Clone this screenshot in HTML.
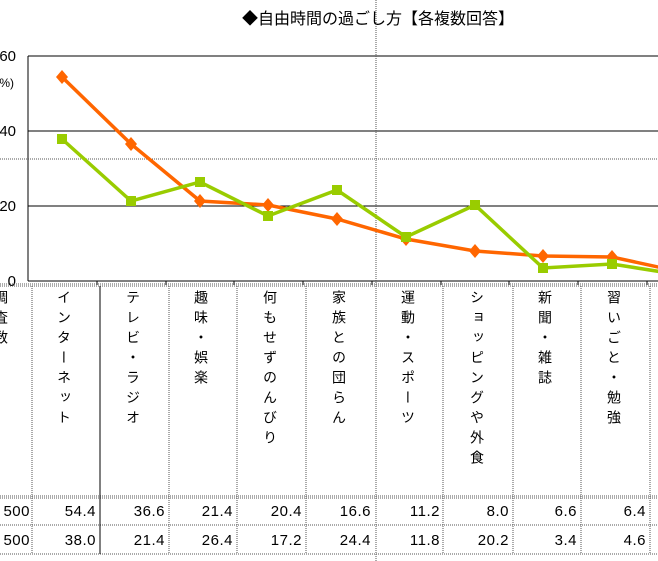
<!DOCTYPE html>
<html><head><meta charset="utf-8"><style>
body{margin:0;background:#fff;width:658px;height:561px;overflow:hidden;font-family:"Liberation Sans","Noto Sans CJK JP",sans-serif;position:relative}
.v{position:absolute;top:290px;writing-mode:vertical-rl;font-size:14px;letter-spacing:6px;color:#000;line-height:14px}
.n{position:absolute;font-size:15px;text-align:right;width:60px;letter-spacing:0.5px}
</style></head><body>
<svg width="658" height="561" style="position:absolute;left:0;top:0">
<text x="378" y="24" font-size="16" text-anchor="middle" font-family="Noto Sans CJK JP,sans-serif">◆自由時間の過ごし方【各複数回答】</text>
<line x1="28" y1="56" x2="658" y2="56" stroke="#000" stroke-width="1"/>
<line x1="28" y1="131" x2="658" y2="131" stroke="#000" stroke-width="1"/>
<line x1="28" y1="206" x2="658" y2="206" stroke="#000" stroke-width="1"/>
<line x1="28" y1="281" x2="658" y2="281" stroke="#000" stroke-width="1"/>
<line x1="28" y1="56" x2="28" y2="281" stroke="#000" stroke-width="1"/>
<g stroke="#000"><line x1="97" y1="281" x2="97" y2="285"/><line x1="166" y1="281" x2="166" y2="285"/><line x1="234" y1="281" x2="234" y2="285"/><line x1="303" y1="281" x2="303" y2="285"/><line x1="372" y1="281" x2="372" y2="285"/><line x1="441" y1="281" x2="441" y2="285"/><line x1="509" y1="281" x2="509" y2="285"/><line x1="578" y1="281" x2="578" y2="285"/><line x1="647" y1="281" x2="647" y2="285"/></g>
<line x1="0" y1="159" x2="658" y2="159" stroke="#555" stroke-dasharray="1,1"/>
<line x1="376" y1="0" x2="376" y2="561" stroke="#555" stroke-dasharray="1,1"/>
<g font-size="15" text-anchor="end"><text x="16" y="61">60</text><text x="14" y="87" font-size="12">%)</text><text x="16" y="136">40</text><text x="16" y="211">20</text><text x="16" y="286">0</text></g>
<polyline fill="none" stroke="#FF6600" stroke-width="3.5" points="62,77 131,144 200,201 268,205 337,219 406,239 475,251 543,256 612,257 681,272"/>
<g fill="#FF6600"><path d="M62,70l6,7-6,7-6-7z"/><path d="M131,137l6,7-6,7-6-7z"/><path d="M200,194l6,7-6,7-6-7z"/><path d="M268,198l6,7-6,7-6-7z"/><path d="M337,212l6,7-6,7-6-7z"/><path d="M406,232l6,7-6,7-6-7z"/><path d="M475,244l6,7-6,7-6-7z"/><path d="M543,249l6,7-6,7-6-7z"/><path d="M612,250l6,7-6,7-6-7z"/></g>
<polyline fill="none" stroke="#99CC00" stroke-width="3.5" points="62,139 131,201 200,182 268,216 337,190 406,237 475,205 543,268 612,264 681,275"/>
<g fill="#99CC00"><rect x="57" y="134" width="10" height="10"/><rect x="126" y="196" width="10" height="10"/><rect x="195" y="177" width="10" height="10"/><rect x="263" y="211" width="10" height="10"/><rect x="332" y="185" width="10" height="10"/><rect x="401" y="232" width="10" height="10"/><rect x="470" y="200" width="10" height="10"/><rect x="538" y="263" width="10" height="10"/><rect x="607" y="259" width="10" height="10"/></g>
<g stroke="#555" stroke-dasharray="1,1"><line x1="0" y1="284" x2="658" y2="284"/><line x1="0" y1="286" x2="658" y2="286"/><line x1="0" y1="496" x2="658" y2="496"/><line x1="0" y1="498" x2="658" y2="498"/><line x1="0" y1="525" x2="658" y2="525"/><line x1="0" y1="554" x2="658" y2="554"/>
<line x1="32" y1="286" x2="32" y2="554"/><line x1="169" y1="286" x2="169" y2="554"/><line x1="237" y1="286" x2="237" y2="554"/><line x1="306" y1="286" x2="306" y2="554"/><line x1="443" y1="286" x2="443" y2="554"/><line x1="513" y1="286" x2="513" y2="554"/><line x1="581" y1="286" x2="581" y2="554"/><line x1="650" y1="286" x2="650" y2="554"/></g>
<line x1="100" y1="286" x2="100" y2="554" stroke="#000"/>
</svg>
<div class="v" style="left:-6px">調査数</div>
<div class="v" style="left:57px">インターネット</div>
<div class="v" style="left:126px">テレビ・ラジオ</div>
<div class="v" style="left:194px">趣味・娯楽</div>
<div class="v" style="left:263px">何もせずのんびり</div>
<div class="v" style="left:332px">家族との団らん</div>
<div class="v" style="left:401px">運動・スポーツ</div>
<div class="v" style="left:470px">ショッピングや外食</div>
<div class="v" style="left:538px">新聞・雑誌</div>
<div class="v" style="left:607px">習いごと・勉強</div>
<div class="n" style="left:-30px;top:503px">500</div><div class="n" style="left:-30px;top:532px">500</div>
<div class="n" style="left:36px;top:503px">54.4</div><div class="n" style="left:36px;top:532px">38.0</div>
<div class="n" style="left:105px;top:503px">36.6</div><div class="n" style="left:105px;top:532px">21.4</div>
<div class="n" style="left:173px;top:503px">21.4</div><div class="n" style="left:173px;top:532px">26.4</div>
<div class="n" style="left:242px;top:503px">20.4</div><div class="n" style="left:242px;top:532px">17.2</div>
<div class="n" style="left:311px;top:503px">16.6</div><div class="n" style="left:311px;top:532px">24.4</div>
<div class="n" style="left:380px;top:503px">11.2</div><div class="n" style="left:380px;top:532px">11.8</div>
<div class="n" style="left:449px;top:503px">8.0</div><div class="n" style="left:449px;top:532px">20.2</div>
<div class="n" style="left:517px;top:503px">6.6</div><div class="n" style="left:517px;top:532px">3.4</div>
<div class="n" style="left:586px;top:503px">6.4</div><div class="n" style="left:586px;top:532px">4.6</div>
</body></html>
